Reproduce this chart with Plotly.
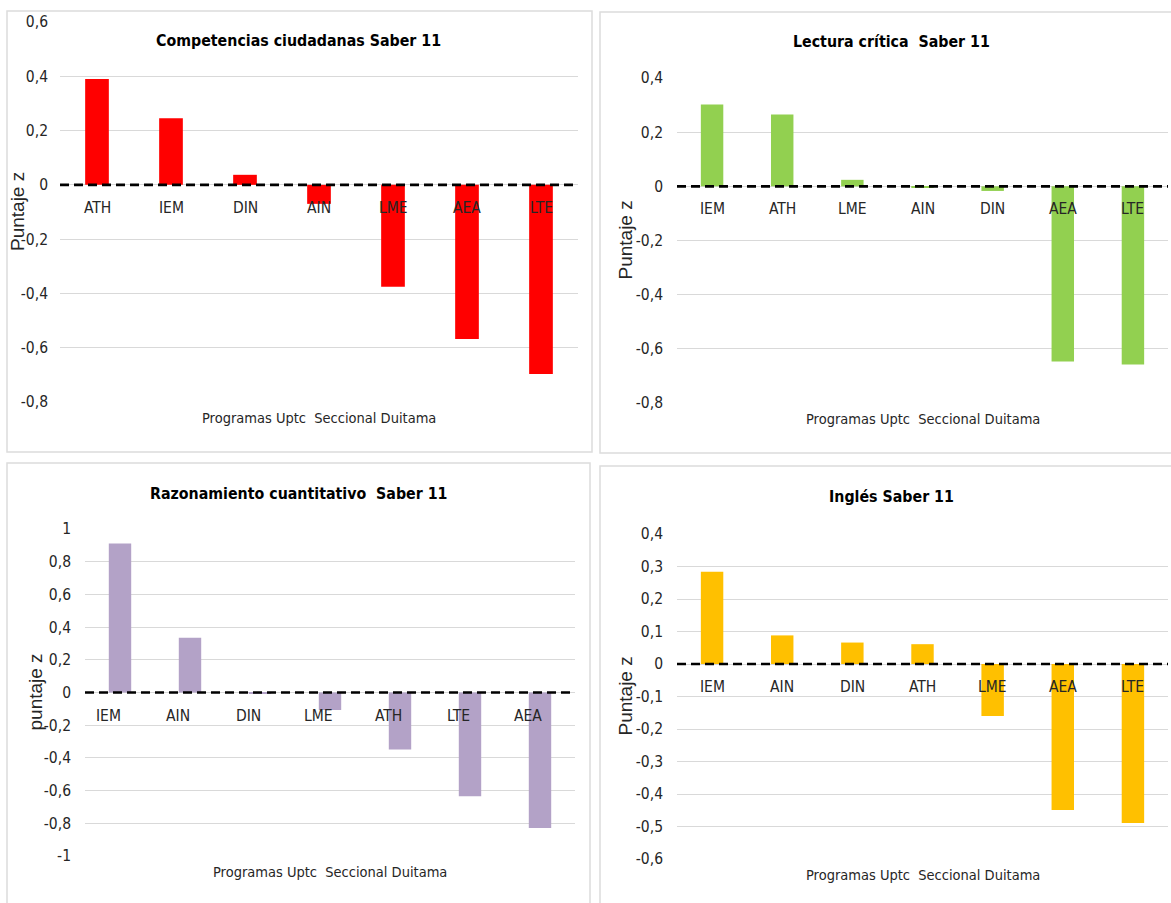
import plotly.graph_objects as go

W, H = 1171, 903

# Programas y puntajes z por prueba Saber 11
cats_ciud = ["ATH", "IEM", "DIN", "AIN", "LME", "AEA", "LTE"]
vals_ciud = [0.390, 0.245, 0.037, -0.070, -0.375, -0.568, -0.697]

cats_lect = ["IEM", "ATH", "LME", "AIN", "DIN", "AEA", "LTE"]
vals_lect = [0.302, 0.265, 0.024, -0.004, -0.017, -0.647, -0.658]

cats_razo = ["IEM", "AIN", "DIN", "LME", "ATH", "LTE", "AEA"]
vals_razo = [0.912, 0.335, -0.005, -0.107, -0.348, -0.634, -0.828]

cats_ingl = ["IEM", "AIN", "DIN", "ATH", "LME", "AEA", "LTE"]
vals_ingl = [0.284, 0.088, 0.066, 0.061, -0.160, -0.449, -0.489]

ticks_ciud = [0.6, 0.4, 0.2, 0, -0.2, -0.4, -0.6, -0.8]
ticks_lect = [0.4, 0.2, 0, -0.2, -0.4, -0.6, -0.8]
ticks_razo = [1, 0.8, 0.6, 0.4, 0.2, 0, -0.2, -0.4, -0.6, -0.8, -1]
ticks_ingl = [0.4, 0.3, 0.2, 0.1, 0, -0.1, -0.2, -0.3, -0.4, -0.5, -0.6]

NARROW = "DejaVu Sans Condensed, Liberation Sans Narrow, Arial Narrow, sans-serif"
REG = "Liberation Sans, Arial, sans-serif"
TXT = "#262626"
GRID = "#D9D9D9"

panels = [
    dict(title="Competencias ciudadanas Saber 11", cats=cats_ciud, vals=vals_ciud,
         color="#FF0000", ticks=ticks_ciud, ytitle="Puntaje z",
         px=(60, 578), py=(22, 402), standoff=11, ytx=-43, tx=298, ty=40,
         lab_dx=0, box=(7, 11, 592, 452)),
    dict(title="Lectura crítica  Saber 11", cats=cats_lect, vals=vals_lect,
         color="#92D050", ticks=ticks_lect, ytitle="Puntaje z",
         px=(677, 1168), py=(78, 403), standoff=13, ytx=-52, tx=891, ty=41,
         lab_dx=0, box=(600, 12, 1180, 453)),
    dict(title="Razonamiento cuantitativo  Saber 11", cats=cats_razo, vals=vals_razo,
         color="#B3A2C7", ticks=ticks_razo, ytitle="puntaje z",
         px=(85, 575), py=(529, 856), standoff=13, ytx=-50, tx=298, ty=493,
         lab_dx=-12, box=(7, 463, 590, 920)),
    dict(title="Inglés Saber 11", cats=cats_ingl, vals=vals_ingl,
         color="#FFC000", ticks=ticks_ingl, ytitle="Puntaje z",
         px=(677, 1168), py=(534, 859), standoff=13, ytx=-52, tx=891, ty=496,
         lab_dx=0, box=(600, 466, 1180, 920)),
]


def fmt(v):
    return f"{v:g}".replace(".", ",")


fig = go.Figure()
shapes = []
annotations = []
layout = {}

for i, p in enumerate(panels, start=1):
    xa = "x" if i == 1 else f"x{i}"
    ya = "y" if i == 1 else f"y{i}"
    xkey = "xaxis" if i == 1 else f"xaxis{i}"
    ykey = "yaxis" if i == 1 else f"yaxis{i}"

    fig.add_trace(go.Bar(x=p["cats"], y=p["vals"], xaxis=xa, yaxis=ya,
                         marker=dict(color=p["color"], line=dict(width=0)),
                         showlegend=False))

    layout[xkey] = dict(domain=[p["px"][0] / W, p["px"][1] / W], anchor=ya,
                        type="category", range=[-0.5, len(p["cats"]) - 0.5],
                        showticklabels=False, showgrid=False, zeroline=False,
                        showline=False, ticks="", automargin=False)
    layout[ykey] = dict(domain=[1 - p["py"][1] / H, 1 - p["py"][0] / H], anchor=xa,
                        range=[min(p["ticks"]), max(p["ticks"])],
                        tickvals=p["ticks"], ticktext=[fmt(t) for t in p["ticks"]],
                        showgrid=True, gridcolor=GRID, gridwidth=1.3,
                        zeroline=False, showline=False, ticks="", automargin=False,
                        ticklabelstandoff=p["standoff"],
                        tickfont=dict(family=NARROW, size=15.5, color=TXT))

    # dashed reference line at zero
    shapes.append(dict(type="line", xref=f"{xa} domain", yref=ya, x0=0, x1=1, y0=0, y1=0,
                       line=dict(color="black", width=2.6, dash="9px,5px"), layer="above"))

    # chart-area border
    bx0, by0, bx1, by1 = p["box"]
    shapes.append(dict(type="rect", xref="paper", yref="paper",
                       x0=bx0 / W, x1=bx1 / W, y0=1 - by1 / H, y1=1 - by0 / H,
                       line=dict(color="#DCDCDC", width=1.5), layer="below"))

    # category labels beside the zero line
    for c in p["cats"]:
        annotations.append(dict(x=c, y=0, xref=xa, yref=ya, text=c, showarrow=False,
                                yanchor="middle", yshift=-23, xshift=p["lab_dx"],
                                font=dict(family=NARROW, size=15.5, color=TXT)))

    # chart title
    annotations.append(dict(x=p["tx"] / W, y=1 - p["ty"] / H, xref="paper", yref="paper",
                            text=f"<b>{p['title']}</b>", showarrow=False,
                            xanchor="center", yanchor="middle",
                            font=dict(family=NARROW, size=15.8, color="black")))

    # x-axis title
    annotations.append(dict(x=0.5, y=0, xref=f"{xa} domain", yref=f"{ya} domain",
                            text="Programas Uptc  Seccional Duitama", showarrow=False,
                            xanchor="center", yanchor="middle", yshift=-16,
                            font=dict(family=NARROW, size=14.5, color=TXT)))

    # y-axis title
    annotations.append(dict(x=0, y=0.5, xref=f"{xa} domain", yref=f"{ya} domain",
                            text=p["ytitle"], showarrow=False, textangle=-90,
                            xanchor="center", yanchor="middle", xshift=p["ytx"],
                            font=dict(family=REG, size=19, color=TXT)))

fig.update_layout(
    template="none",
    width=W, height=H,
    margin=dict(l=0, r=0, t=0, b=0, pad=0),
    paper_bgcolor="white", plot_bgcolor="white",
    bargap=0.68, showlegend=False,
    shapes=shapes, annotations=annotations,
    **layout,
)

fig.write_html("out.html")
